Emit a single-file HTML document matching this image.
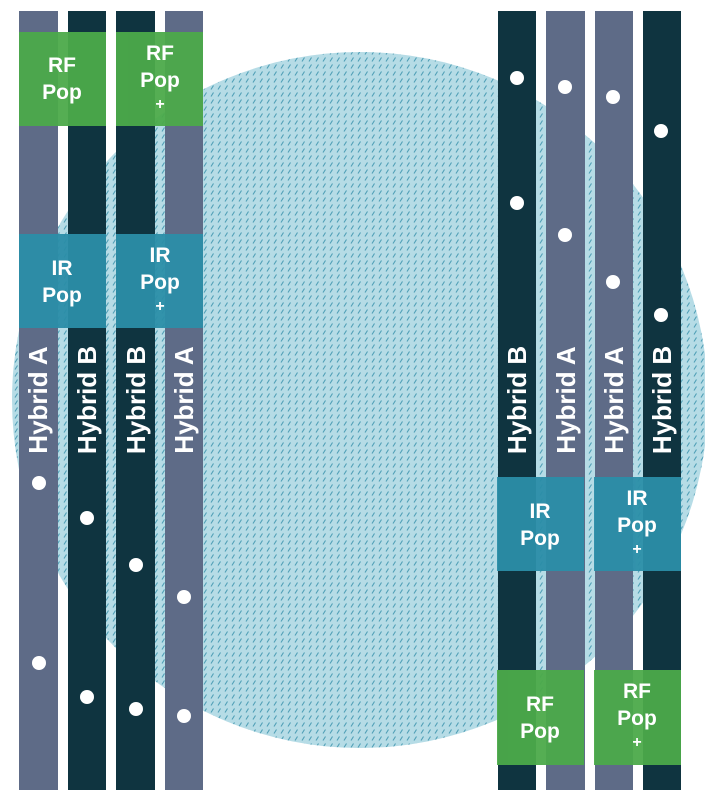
<!DOCTYPE html>
<html><head><style>
body{margin:0;width:705px;height:795px;background:#fff;overflow:hidden}
</style></head><body>
<svg width="705" height="795" xmlns="http://www.w3.org/2000/svg" font-family="Liberation Sans, sans-serif" font-weight="bold">
<defs>
<pattern id="p" width="7" height="7" patternUnits="userSpaceOnUse">
<rect width="7" height="7" fill="#b6dce6"/>
<line x1="1" y1="5.5" x2="3.5" y2="1.5" stroke="#4f9fb6" stroke-width="1.1"/>
</pattern>
</defs>
<circle cx="360" cy="400" r="348" fill="url(#p)"/>
<g>
<rect x="19" y="11" width="39" height="779" fill="#5e6b87"/>
<rect x="68" y="11" width="38" height="779" fill="#0f3440"/>
<rect x="116" y="11" width="39" height="779" fill="#0f3440"/>
<rect x="165" y="11" width="38" height="779" fill="#5e6b87"/>
<rect x="498" y="11" width="38" height="779" fill="#0f3440"/>
<rect x="546" y="11" width="39" height="779" fill="#5e6b87"/>
<rect x="595" y="11" width="38" height="779" fill="#5e6b87"/>
<rect x="643" y="11" width="38" height="779" fill="#0f3440"/>
</g>
<g fill="#4caa4a" opacity="0.95">
<rect x="19" y="32" width="87" height="94"/>
<rect x="116" y="32" width="87" height="94"/>
<rect x="497" y="670" width="87" height="95"/>
<rect x="594" y="670" width="87" height="95"/>
</g>
<g fill="#2b8ea8" opacity="0.95">
<rect x="19" y="234" width="87" height="94"/>
<rect x="116" y="234" width="87" height="94"/>
<rect x="497" y="477" width="87" height="94"/>
<rect x="594" y="477" width="87" height="94"/>
</g>
<g fill="#fff" font-size="21" text-anchor="middle">
<text x="62" y="72">RF</text><text x="62" y="99">Pop</text>
<text x="160" y="60">RF</text><text x="160" y="87">Pop</text><text x="160" y="109" font-size="16">+</text>
<text x="62" y="275">IR</text><text x="62" y="302">Pop</text>
<text x="160" y="262">IR</text><text x="160" y="289">Pop</text><text x="160" y="311" font-size="16">+</text>
<text x="540" y="518">IR</text><text x="540" y="545">Pop</text>
<text x="637" y="505">IR</text><text x="637" y="532">Pop</text><text x="637" y="554" font-size="16">+</text>
<text x="540" y="711">RF</text><text x="540" y="738">Pop</text>
<text x="637" y="698">RF</text><text x="637" y="725">Pop</text><text x="637" y="747" font-size="16">+</text>
</g>
<g fill="#fff" font-size="26" text-anchor="middle">
<text transform="translate(47,400) rotate(-90)">Hybrid A</text>
<text transform="translate(96,400) rotate(-90)">Hybrid B</text>
<text transform="translate(145,400) rotate(-90)">Hybrid B</text>
<text transform="translate(193,400) rotate(-90)">Hybrid A</text>
<text transform="translate(526,400) rotate(-90)">Hybrid B</text>
<text transform="translate(575,400) rotate(-90)">Hybrid A</text>
<text transform="translate(623,400) rotate(-90)">Hybrid A</text>
<text transform="translate(671,400) rotate(-90)">Hybrid B</text>
</g>
<g fill="#fff">
<circle cx="39" cy="483" r="7"/><circle cx="39" cy="663" r="7"/>
<circle cx="87" cy="518" r="7"/><circle cx="87" cy="697" r="7"/>
<circle cx="136" cy="565" r="7"/><circle cx="136" cy="709" r="7"/>
<circle cx="184" cy="597" r="7"/><circle cx="184" cy="716" r="7"/>
<circle cx="517" cy="78" r="7"/><circle cx="517" cy="203" r="7"/>
<circle cx="565" cy="87" r="7"/><circle cx="565" cy="235" r="7"/>
<circle cx="613" cy="97" r="7"/><circle cx="613" cy="282" r="7"/>
<circle cx="661" cy="131" r="7"/><circle cx="661" cy="315" r="7"/>
</g>
</svg>
</body></html>
